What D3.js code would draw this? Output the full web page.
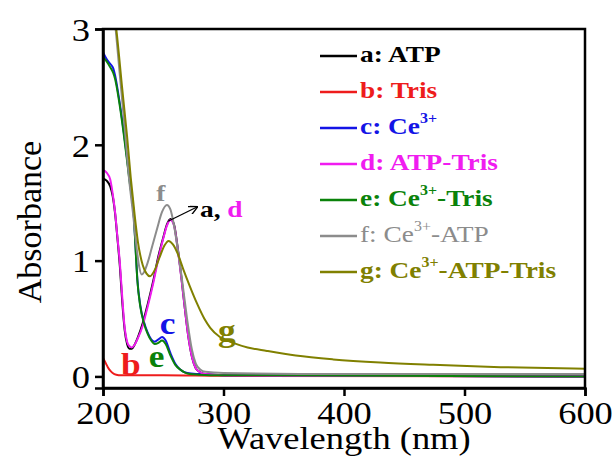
<!DOCTYPE html>
<html>
<head>
<meta charset="utf-8">
<script src="https://cdn.jsdelivr.net/npm/d3@7/dist/d3.min.js"></script>
</head>
<body style="margin:0;background:#fff">
<svg id="uvplot" width="615" height="456"></svg>
<script>
// wavelength (nm) / absorbance pairs
var atp = [[200,1.71],[203,1.69],[206,1.64],[208,1.56],[210,1.41],[212,1.19],[214,0.95],[216,0.64],[218,0.40],[220,0.28],[222,0.24],[224,0.24],[226,0.27],[229,0.34],[233,0.46],[237,0.62],[242,0.84],[246,1.04],[250,1.20],[253,1.31],[256,1.36],[259,1.31],[262,1.11],[265,0.86],[268,0.58],[271,0.33],[274,0.16],[277,0.07],[280,0.04],[285,0.02],[300,0.01],[400,0.005],[600,0.0]];
var tris = [[200,0.16],[202,0.12],[204,0.08],[206,0.05],[208,0.03],[211,0.015],[215,0.01],[250,0.01],[300,0.005],[600,0.0]];
var ce = [[200,2.80],[203,2.74],[206,2.70],[208.5,2.66],[210,2.60],[213,2.42],[217,2.13],[220,1.88],[222.5,1.67],[224,1.56],[225.5,1.40],[227,1.12],[228.5,0.84],[231,0.61],[234,0.47],[237,0.38],[240,0.32],[243,0.30],[246,0.32],[249,0.34],[252,0.31],[256,0.20],[260,0.11],[264,0.06],[270,0.03],[280,0.02],[300,0.01],[600,0.0]];
var atpTris = [[200,1.78],[203,1.76],[206,1.70],[208,1.58],[210,1.42],[212,1.20],[214,0.98],[216,0.68],[218,0.42],[220,0.30],[222,0.26],[224,0.25],[226,0.27],[229,0.33],[233,0.44],[237,0.60],[242,0.82],[246,1.02],[250,1.19],[253,1.30],[256,1.35],[259,1.30],[262,1.10],[265,0.85],[268,0.58],[271,0.33],[274,0.16],[277,0.07],[280,0.04],[285,0.02],[300,0.01],[400,0.005],[600,0.0]];
var ceTris = [[200,2.76],[203,2.72],[206,2.67],[208.5,2.62],[210,2.57],[213,2.40],[217,2.11],[220,1.86],[222.5,1.65],[224,1.54],[225.5,1.40],[227,1.11],[228.5,0.83],[231,0.60],[234,0.46],[237,0.37],[240,0.31],[243,0.28],[246,0.29],[249,0.31],[252,0.28],[256,0.18],[260,0.10],[264,0.06],[272,0.02],[280,0.015],[300,0.01],[600,0.0]];
var ceAtp = [[205,3.45],[210,3.05],[214,2.60],[218,2.15],[221.5,1.72],[225,1.40],[228,1.10],[230,0.95],[232,0.88],[234,0.90],[237,0.98],[241,1.13],[245,1.28],[249,1.42],[253,1.48],[256,1.44],[259,1.30],[262,1.10],[265,0.88],[267,0.72],[270,0.48],[273.8,0.23],[277,0.11],[280.7,0.06],[285,0.04],[300,0.03],[400,0.02],[600,0.02]];
var ceAtpTris = [[205,3.40],[211,3.0],[215.8,2.50],[220,2.07],[223,1.72],[226,1.42],[229,1.16],[233,0.96],[236,0.89],[239,0.865],[243,0.92],[247,1.03],[251,1.13],[254.4,1.17],[258,1.14],[262,1.06],[266.8,0.92],[272,0.78],[278,0.63],[284,0.50],[289,0.42],[297,0.34],[308,0.29],[320,0.25],[336,0.22],[360,0.18],[391,0.147],[430,0.12],[474,0.10],[530,0.08],[600,0.066]];

var seriesNames = ["a: ATP", "b: Tris", "c: Ce", "d: ATP-Tris", "e: Ce", "f: Ce", "g: Ce"];
var seriesTails = ["", "", "", "", "-Tris", "-ATP", "-ATP-Tris"];
var seriesSup = [false, false, true, false, true, true, true];
var seriesColors = ["#000000", "#ee1c1c", "#1414e6", "#f01cf0", "#0a820a", "#8c8c8c", "#808000"];
var seriesData = [atp, tris, ce, atpTris, ceTris, ceAtp, ceAtpTris];

var xTicks = [200, 300, 400, 500, 600];
var yTicks = [0, 1, 2, 3];

var serif = "Liberation Serif, serif";
var stretch = 1.14; // the source figure is a bit wider than tall

var margin = {top: 29, right: 30, bottom: 68, left: 103};
var width = 615 - margin.left - margin.right;
var height = 456 - margin.top - margin.bottom;

var svg = d3.select("#uvplot");
var g = svg.append("g").attr("transform", "translate(" + margin.left + "," + margin.top + ")");

var x = d3.scaleLinear().domain([200, 600]).range([0, width]);
var y = d3.scaleLinear().domain([-0.1, 3]).range([height, 0]);

g.append("clipPath").attr("id", "plotclip")
    .append("rect").attr("width", width).attr("height", height);

var line = d3.line()
    .x(function(d) { return x(d[0]); })
    .y(function(d) { return y(d[1]); })
    .curve(d3.curveMonotoneX);

var lines = g.append("g").attr("clip-path", "url(#plotclip)");
for (var i = 0; i < seriesData.length; i++) {
    lines.append("path")
        .attr("d", line(seriesData[i]))
        .attr("fill", "none")
        .attr("stroke", seriesColors[i])
        .attr("stroke-width", 2);
}

// frame
g.append("rect").attr("width", width).attr("height", height)
    .attr("fill", "none").attr("stroke", "#000").attr("stroke-width", 2.5);

var xAxis = g.append("g").attr("transform", "translate(0," + height + ")")
    .call(d3.axisBottom(x).tickValues(xTicks).tickSize(8).tickPadding(4));
var yAxis = g.append("g")
    .call(d3.axisLeft(y).tickValues(yTicks).tickFormat(d3.format("d")).tickSize(8).tickPadding(5));

[xAxis, yAxis].forEach(function(a) {
    a.attr("font-family", serif).attr("font-size", 32);
    a.select(".domain").attr("stroke-width", 2.5);
    a.selectAll(".tick line").attr("stroke-width", 2.5);
    a.selectAll(".tick text").attr("fill", "#000")
        .attr("transform", "scale(" + stretch + ",1)");
});
xAxis.selectAll(".tick text").attr("dy", "0.74em");
yAxis.selectAll(".tick text").attr("dy", "0.35em").attr("x", -13 / stretch);

function addText(px, py, size) {
    return svg.append("text")
        .attr("transform", "translate(" + px + "," + py + ") scale(" + stretch + ",1)")
        .attr("font-family", serif).attr("font-size", size);
}

addText(margin.left + width / 2, 449, 32)
    .attr("text-anchor", "middle")
    .text("Wavelength (nm)");

svg.append("text")
    .attr("transform", "translate(41,222) rotate(-90)")
    .attr("text-anchor", "middle")
    .attr("font-family", serif).attr("font-size", 34)
    .text("Absorbance");

// legend
for (var j = 0; j < seriesNames.length; j++) {
    var by = 62 + j * 36;
    svg.append("line")
        .attr("x1", 320).attr("x2", 357)
        .attr("y1", by - 6).attr("y2", by - 6)
        .attr("stroke", seriesColors[j]).attr("stroke-width", 2.5);
    var t = addText(360, by, 24)
        .attr("fill", seriesColors[j])
        .attr("font-weight", j == 5 ? "normal" : "bold");
    t.append("tspan").text(seriesNames[j]);
    if (seriesSup[j]) {
        t.append("tspan").attr("dy", -11).attr("font-size", 14).text("3+");
        t.append("tspan").attr("dy", 11).text(seriesTails[j]);
    }
}

// curve labels
var labels = [
    {t: "f", c: seriesColors[5], x: 255, y: 1.50, s: 24, dx: -13, dy: -2},
    {t: "b", c: seriesColors[1], x: 215, y: 0.01, s: 31, dx: 0, dy: 0},
    {t: "c", c: seriesColors[2], x: 248, y: 0.34, s: 31, dx: -1, dy: -3},
    {t: "e", c: seriesColors[4], x: 243, y: 0.28, s: 31, dx: -6, dy: 23},
    {t: "g", c: seriesColors[6], x: 297, y: 0.34, s: 31, dx: -2, dy: 4}
];
labels.forEach(function(l) {
    addText(margin.left + x(l.x) + l.dx, margin.top + y(l.y) + l.dy, l.s)
        .attr("fill", l.c)
        .attr("font-weight", "bold")
        .text(l.t);
});

var ad = addText(200, 217, 24).attr("font-weight", "bold");
ad.append("tspan").attr("fill", "#000").text("a, ");
ad.append("tspan").attr("fill", seriesColors[3]).text("d");

// arrow pointing to the a/d peak
svg.append("defs").append("marker")
    .attr("id", "arrowhead").attr("viewBox", "0 0 10 10")
    .attr("refX", 9).attr("refY", 5)
    .attr("markerWidth", 7).attr("markerHeight", 7)
    .attr("orient", "auto")
    .append("path").attr("d", "M0,0 L10,5 L0,10").attr("fill", "none")
    .attr("stroke", "#000").attr("stroke-width", 1.5);
svg.append("line")
    .attr("x1", margin.left + x(254)).attr("y1", margin.top + y(1.34))
    .attr("x2", 197).attr("y2", 207)
    .attr("stroke", "#000").attr("stroke-width", 1.3)
    .attr("marker-end", "url(#arrowhead)");
</script>
</body>
</html>
